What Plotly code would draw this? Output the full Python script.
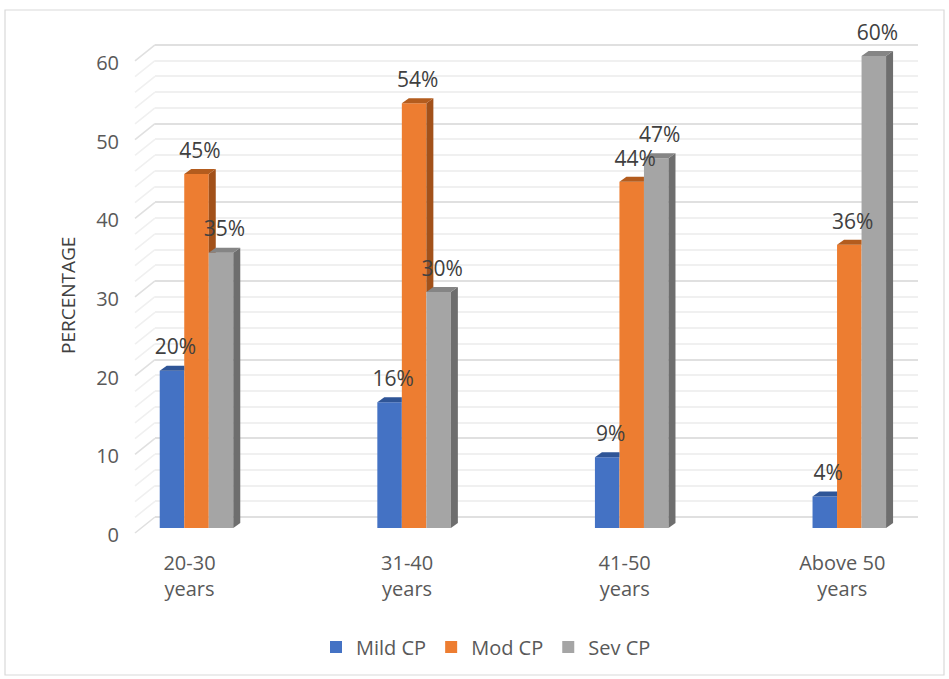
import plotly.graph_objects as go

# ---- data -------------------------------------------------------------
age_groups = ["20-30<br>years", "31-40<br>years", "41-50<br>years", "Above 50<br>years"]
series_names = ["Mild CP", "Mod CP", "Sev CP"]
mild_cp = [20, 16, 9, 4]
mod_cp = [45, 54, 44, 36]
sev_cp = [35, 30, 47, 60]
y_ticks = [0, 10, 20, 30, 40, 50, 60]

series_values = [mild_cp, mod_cp, sev_cp]
front_colors = ["#4472C4", "#ED7D31", "#A5A5A5"]
top_colors = ["#2F5597", "#B35C1E", "#858585"]
side_colors = ["#2B4F8C", "#A2511A", "#6E6E6E"]

# ---- geometry (pixels) --------------------------------------------------
W, H = 949, 679
PLOT_L, PLOT_R, PLOT_T, PLOT_B = 155, 918, 30, 545
PX_PER_UNIT = 7.867           # vertical pixels per percentage point
FRONT_ZERO = 528              # baseline of the bar fronts
BACK_ZERO = 517               # baseline of the back wall
LABEL_ZERO = 535              # baseline of the front (label) plane
CAT_PX = 217.6                # distance between category centres
FIRST_CENTER = 196.5
DEPTH_X, DEPTH_Y = 7, 5       # 3-D extrusion of each column
GROUP_FRACTION = 0.338        # share of a category taken by its three columns
LABEL_LIFT = 6                # extra gap between a column top and its value label


def yrange(zero_px):
    return [(zero_px - PLOT_B) / PX_PER_UNIT, (zero_px - PLOT_T) / PX_PER_UNIT]


def xrange(shift_px=0.0):
    c = FIRST_CENTER - shift_px
    return [(PLOT_L - c) / CAT_PX, (PLOT_R - c) / CAT_PX]


def paper_x(px):
    return (px - PLOT_L) / (PLOT_R - PLOT_L)


def paper_y(py):
    return (PLOT_B - py) / (PLOT_B - PLOT_T)


dxu = DEPTH_X / CAT_PX
dyu = DEPTH_Y / PX_PER_UNIT
bar_w = GROUP_FRACTION / len(series_values)

FONT = "Open Sans, Segoe UI, Arial, sans-serif"
MAJOR_GRID = "#E0E0E0"
MINOR_GRID = "#F0F0F0"
fig = go.Figure()

# front faces of the columns
for name, vals, col in zip(series_names, series_values, front_colors):
    fig.add_trace(go.Bar(
        x=list(range(len(vals))), y=vals, name=name,
        marker=dict(color=col, line=dict(width=0)),
        hoverinfo="skip",
    ))

# top and side faces, drawn series by series so later columns hide earlier ones
for s, vals in enumerate(series_values):
    nxt = series_values[s + 1] if s + 1 < len(series_values) else None
    for i, v in enumerate(vals):
        c = i + (s - 1) * bar_w
        xl, xr = c - bar_w / 2, c + bar_w / 2
        vn = nxt[i] if nxt is not None else None
        # side face (only the part not covered by the neighbouring column)
        if vn is None or vn < v:
            lo = 0 if vn is None else vn
            lo_back = dyu if vn is None else vn
            fig.add_trace(go.Scatter(
                x=[xr, xr, xr + dxu, xr + dxu, xr],
                y=[lo, v, v + dyu, lo_back, lo],
                fill="toself", fillcolor=side_colors[s], mode="lines",
                line=dict(width=0), showlegend=False, hoverinfo="skip",
            ))
        # top face
        if vn is not None and vn >= v + dyu:
            tx = [xl, xr, xr, xl + dxu, xl]
        else:
            tx = [xl, xr, xr + dxu, xl + dxu, xl]
        ty = [v, v, v + dyu, v + dyu, v]
        fig.add_trace(go.Scatter(
            x=tx, y=ty, fill="toself", fillcolor=top_colors[s], mode="lines",
            line=dict(width=0), showlegend=False, hoverinfo="skip",
        ))

# value labels
for s, vals in enumerate(series_values):
    xs = [i + (s - 1) * bar_w + dxu / 2 for i in range(len(vals))]
    fig.add_trace(go.Scatter(
        x=xs, y=[v + dyu + LABEL_LIFT / PX_PER_UNIT for v in vals], mode="text",
        text=[f"{v}%" for v in vals], textposition="top center",
        textfont=dict(family=FONT, size=21, color="#404040"),
        showlegend=False, hoverinfo="skip", cliponaxis=False,
    ))

# helper traces so the overlay axes get drawn
fig.add_trace(go.Scatter(x=[0], y=[0], xaxis="x2", yaxis="y3", mode="markers",
                         marker=dict(opacity=0), showlegend=False, hoverinfo="skip"))
fig.add_trace(go.Scatter(x=[0], y=[0], xaxis="x", yaxis="y2", mode="markers",
                         marker=dict(opacity=0), showlegend=False, hoverinfo="skip"))

# floor-to-wall diagonals of each gridline on the left side
grid_vals = list(range(0, 61, 2))
shapes = []
for g in grid_vals:
    start_px = LABEL_ZERO - 2 - g * PX_PER_UNIT
    end_px = BACK_ZERO - g * PX_PER_UNIT
    shapes.append(dict(
        type="line", xref="paper", yref="paper",
        x0=paper_x(135), x1=paper_x(PLOT_L),
        y0=paper_y(start_px), y1=paper_y(end_px),
        line=dict(color=MAJOR_GRID if g % 10 == 0 else MINOR_GRID, width=1.6),
        layer="below",
    ))
# chart frame
shapes.append(dict(type="rect", xref="paper", yref="paper",
                   x0=paper_x(5), x1=paper_x(944), y0=paper_y(10), y1=paper_y(675),
                   line=dict(color="#D9D9D9", width=1.2), layer="below"))

fig.update_layout(
    width=W, height=H,
    margin=dict(l=PLOT_L, r=W - PLOT_R, t=PLOT_T, b=H - PLOT_B, pad=0),
    paper_bgcolor="white", plot_bgcolor="rgba(0,0,0,0)",
    barmode="group", bargap=1 - GROUP_FRACTION, bargroupgap=0,
    font=dict(family=FONT, color="#595959"),
    xaxis=dict(range=xrange(), showticklabels=False, showgrid=False,
               zeroline=False, showline=False, ticks=""),
    xaxis2=dict(overlaying="x", anchor="y", side="bottom", range=xrange(7),
                tickmode="array", tickvals=list(range(len(age_groups))),
                ticktext=age_groups, showgrid=False, zeroline=False,
                showline=False, ticks="", ticklabelstandoff=4,
                tickfont=dict(family=FONT, size=20, color="#595959")),
    yaxis=dict(range=yrange(FRONT_ZERO), visible=False, showgrid=False,
               zeroline=False),
    yaxis2=dict(overlaying="y", anchor="x", range=yrange(BACK_ZERO),
                tickmode="array", tickvals=y_ticks, showticklabels=False,
                showgrid=True, gridcolor=MAJOR_GRID, gridwidth=1.6,
                minor=dict(tickmode="array",
                           tickvals=[g for g in grid_vals if g % 10],
                           showgrid=True, gridcolor=MINOR_GRID, gridwidth=1.6),
                zeroline=False, showline=False, ticks="", layer="below traces"),
    yaxis3=dict(overlaying="y", anchor="x", side="left", range=yrange(LABEL_ZERO),
                tickmode="array", tickvals=y_ticks, showgrid=False,
                zeroline=False, showline=False, ticks="", ticklabelstandoff=35,
                tickfont=dict(family=FONT, size=20, color="#595959")),
    legend=dict(orientation="h", x=paper_x(486), xanchor="center",
                y=paper_y(647), yanchor="middle",
                font=dict(family=FONT, size=20, color="#595959"),
                traceorder="normal", itemclick=False),
    shapes=shapes,
    annotations=[dict(text="PERCENTAGE", textangle=-90, xref="paper", yref="paper",
                      x=paper_x(68), y=paper_y(296), showarrow=False,
                      xanchor="center", yanchor="middle",
                      font=dict(family=FONT, size=19, color="#404040"))],
)

fig.write_html("out.html")
